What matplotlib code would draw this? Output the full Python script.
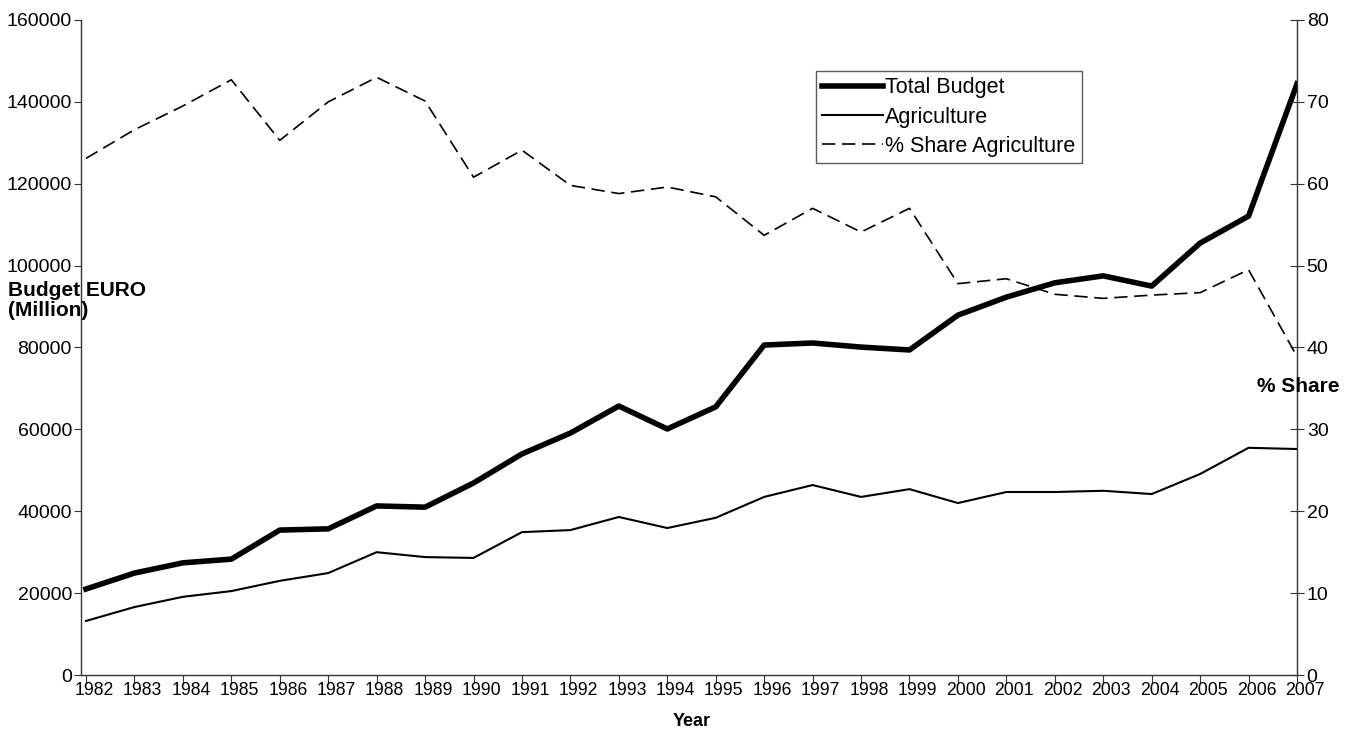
import matplotlib
matplotlib.use("Agg")
import matplotlib.pyplot as plt
import matplotlib.transforms as mtransforms

plt.rcParams['font.family'] = ['Liberation Sans', 'DejaVu Sans']

years = list(range(1982, 2008))
total_budget = [21000, 24900, 27400, 28300, 35400, 35700, 41300, 41000, 46900, 54000,
                59100, 65700, 60100, 65500, 80600, 81100, 80100, 79400, 87900, 92300,
                95800, 97500, 95000, 105500, 112100, 144400]
agriculture = [13200, 16600, 19100, 20500, 23000, 24900, 30000, 28800, 28600, 34900,
               35400, 38600, 35900, 38400, 43500, 46400, 43500, 45400, 42000, 44700,
               44700, 45000, 44200, 49100, 55500, 55200]
share_agri = [63.1, 66.6, 69.5, 72.7, 65.3, 70.0, 73.0, 70.1, 60.8, 64.1,
              59.8, 58.8, 59.6, 58.4, 53.7, 57.0, 54.1, 57.0, 47.8, 48.4,
              46.5, 46.0, 46.4, 46.7, 49.5, 38.9]

left_ticks = list(range(0, 160001, 20000))
right_ticks = list(range(0, 81, 10))

W, H = 1352, 732
fig = plt.figure(figsize=(W / 100, H / 100), dpi=100)
ax = fig.add_axes([81 / W, 1 - 675 / H, (1297 - 81) / W, (675 - 20) / H])
ax2 = ax.twinx()

l1, = ax.plot(years, total_budget, color='black', lw=4.0)
l2, = ax.plot(years, agriculture, color='black', lw=1.5)
l3, = ax2.plot(years, share_agri, color='black', lw=1.2, dashes=(8, 4))

# data starts a few pixels right of the left spine, like the original
ax.set_xlim(1982 - 5 / 48.4, 2007)
ax.set_ylim(0, 160000)
ax2.set_ylim(0, 80)
ax.set_xticks(years)
ax.set_xticklabels([])
ax.set_yticks(left_ticks)
ax.set_yticklabels([str(v) for v in left_ticks], fontsize=14)
ax2.set_yticks(right_ticks)
ax2.set_yticklabels([str(v) for v in right_ticks], fontsize=14)

# year labels sit a bit right of their ticks
shift = mtransforms.ScaledTranslation(8 / 100, -7 / 100, fig.dpi_scale_trans)
xlab_tr = ax.get_xaxis_transform() + shift
for y in years:
    ax.text(y, 0, str(y), transform=xlab_tr, fontsize=12.7,
            ha='center', va='top', clip_on=False)

for a in (ax, ax2):
    a.spines['top'].set_visible(False)
    for s in a.spines.values():
        s.set_color('#333333')
        s.set_linewidth(1.0)
ax.spines['right'].set_visible(False)
ax2.spines['left'].set_visible(False)
ax2.spines['bottom'].set_visible(False)

ax.tick_params(axis='y', direction='out', length=5, width=0.8, color='#333333', pad=1.5)
ax.tick_params(axis='x', direction='out', length=6, width=0.8, color='#333333')
ax2.tick_params(axis='y', direction='inout', length=10, width=0.8, color='#333333', pad=2)

fig.text(8 / W, 1 - 281 / H, "Budget EURO\n(Million)", fontsize=15, fontweight='bold',
         ha='left', va='top', linespacing=1.1)
fig.text(1298 / W, 1 - 386 / H, "% Share", fontsize=15, fontweight='bold',
         ha='center', va='center')
fig.text(692 / W, 1 - 721 / H, "Year", fontsize=13, fontweight='bold',
         ha='center', va='center')

leg = ax.legend([l1, l2, l3], ["Total Budget", "Agriculture", "% Share Agriculture"],
                loc='upper left', bbox_to_anchor=(816 / W, 1 - 71 / H),
                bbox_transform=fig.transFigure, fontsize=15.5, frameon=True,
                fancybox=False, handlelength=2.8, handletextpad=0.1,
                borderpad=0.3, labelspacing=0.38, borderaxespad=0)
leg.get_frame().set_edgecolor('#333333')
leg.get_frame().set_linewidth(1.0)

fig.savefig("out.png", dpi=100)
